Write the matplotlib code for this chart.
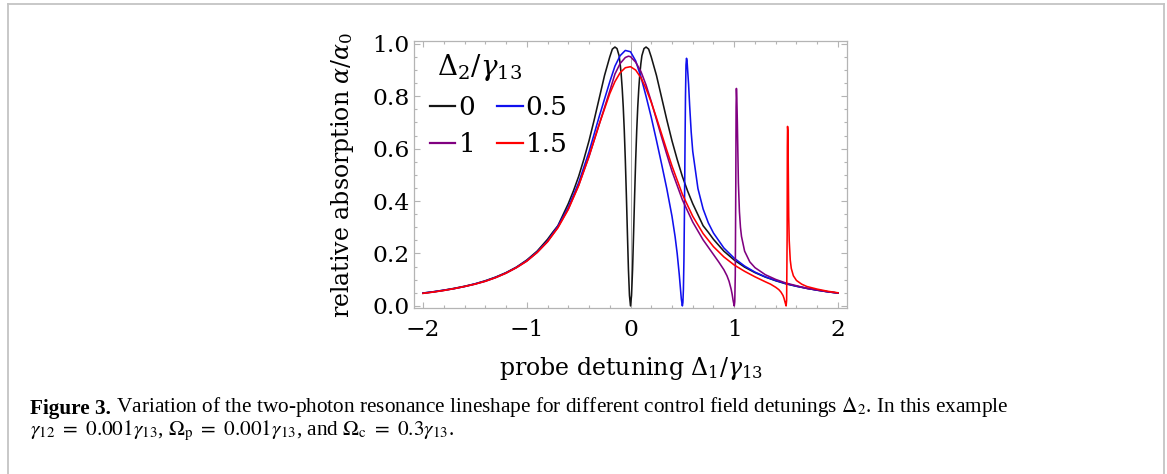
import matplotlib
matplotlib.use('Agg')
import matplotlib.pyplot as plt
from matplotlib.lines import Line2D
from matplotlib.ticker import MultipleLocator

# ---------------- data ----------------
detunings = ['0', '0.5', '1', '1.5']   # Delta_2 / gamma_13

x_d0 = [-2.0, -1.9, -1.8, -1.7, -1.6, -1.5, -1.4, -1.3, -1.2, -1.1, -1.0, -0.9, -0.8, -0.75, -0.7,
        -0.65, -0.6, -0.55, -0.5, -0.45, -0.4, -0.35, -0.3, -0.25, -0.2, -0.175, -0.15, -0.13,
        -0.11, -0.1, -0.09, -0.08, -0.07, -0.06, -0.05, -0.04, -0.03, -0.02, -0.01, 0.0,
        0.01, 0.02, 0.03, 0.04, 0.05, 0.06, 0.07, 0.08, 0.09, 0.1, 0.11, 0.13, 0.15, 0.175,
        0.2, 0.25, 0.3, 0.35, 0.4, 0.45, 0.5, 0.55, 0.6, 0.65, 0.7, 0.75, 0.8, 0.9, 1.0,
        1.1, 1.2, 1.3, 1.4, 1.5, 1.6, 1.7, 1.8, 1.9, 2.0]
y_d0 = [0.049, 0.054, 0.060, 0.067, 0.075, 0.084, 0.096, 0.110, 0.127, 0.148, 0.175, 0.209, 0.254, 0.281, 0.306,
        0.348, 0.390, 0.439, 0.494, 0.559, 0.630, 0.710, 0.795, 0.880, 0.950, 0.980, 0.988, 0.982,
        0.955, 0.925, 0.885, 0.830, 0.760, 0.670, 0.558, 0.425, 0.280, 0.140, 0.040, 0.0,
        0.040, 0.140, 0.280, 0.425, 0.558, 0.670, 0.760, 0.830, 0.885, 0.925, 0.955, 0.982, 0.988, 0.980,
        0.950, 0.880, 0.795, 0.710, 0.630, 0.559, 0.494, 0.439, 0.390, 0.348, 0.306, 0.281, 0.254, 0.209, 0.175,
        0.148, 0.127, 0.110, 0.096, 0.084, 0.075, 0.067, 0.060, 0.054, 0.049]

x_d05 = [-2.0, -1.9, -1.8, -1.7, -1.6, -1.5, -1.4, -1.3, -1.2, -1.1, -1.0, -0.9, -0.8, -0.7, -0.6,
         -0.5, -0.4, -0.3, -0.2, -0.15, -0.1, -0.05, 0.0, 0.05, 0.1, 0.15, 0.2, 0.25, 0.3, 0.35,
         0.4, 0.43, 0.45, 0.47, 0.48, 0.49, 0.5, 0.505, 0.51, 0.515, 0.52, 0.525, 0.53, 0.535,
         0.54, 0.545, 0.55, 0.56, 0.57, 0.585, 0.6, 0.65, 0.7, 0.75, 0.8, 0.9, 1.0, 1.1, 1.2,
         1.3, 1.4, 1.5, 1.6, 1.7, 1.8, 1.9, 2.0]
y_d05 = [0.049, 0.054, 0.060, 0.066, 0.074, 0.084, 0.095, 0.109, 0.126, 0.147, 0.173, 0.206, 0.248, 0.304, 0.376,
         0.470, 0.588, 0.725, 0.855, 0.915, 0.955, 0.975, 0.970, 0.935, 0.875, 0.800, 0.720, 0.632, 0.541, 0.447,
         0.342, 0.264, 0.200, 0.120, 0.073, 0.026, 0.0, 0.013, 0.063, 0.173, 0.356, 0.590, 0.800, 0.920,
         0.945, 0.935, 0.905, 0.845, 0.766, 0.664, 0.590, 0.448, 0.370, 0.317, 0.278, 0.221, 0.182, 0.152, 0.129,
         0.111, 0.097, 0.085, 0.075, 0.067, 0.060, 0.054, 0.049]

x_d1 = [-2.0, -1.9, -1.8, -1.7, -1.6, -1.5, -1.4, -1.3, -1.2, -1.1, -1.0, -0.9, -0.8, -0.7, -0.6,
        -0.5, -0.4, -0.3, -0.2, -0.15, -0.1, -0.05, -0.02, 0.0, 0.05, 0.1, 0.15, 0.2, 0.25, 0.3,
        0.35, 0.4, 0.5, 0.6, 0.7, 0.8, 0.85, 0.9, 0.93, 0.95, 0.97, 0.98, 0.99, 1.0, 1.005,
        1.01, 1.015, 1.018, 1.021, 1.025, 1.03, 1.04, 1.05, 1.06, 1.07, 1.1, 1.15, 1.2, 1.3,
        1.4, 1.5, 1.6, 1.7, 1.8, 1.9, 2.0]
y_d1 = [0.048, 0.053, 0.059, 0.066, 0.074, 0.083, 0.094, 0.108, 0.125, 0.146, 0.171, 0.204, 0.245, 0.300, 0.370,
        0.460, 0.570, 0.695, 0.820, 0.885, 0.925, 0.948, 0.953, 0.951, 0.930, 0.895, 0.843, 0.780, 0.712, 0.644,
        0.578, 0.514, 0.405, 0.320, 0.252, 0.196, 0.168, 0.138, 0.115, 0.094, 0.064, 0.044, 0.019, 0.0, 0.016,
        0.116, 0.463, 0.760, 0.830, 0.790, 0.700, 0.470, 0.360, 0.300, 0.265, 0.209, 0.168, 0.146, 0.119,
        0.101, 0.087, 0.077, 0.067, 0.061, 0.054, 0.049]

x_d15 = [-2.0, -1.9, -1.8, -1.7, -1.6, -1.5, -1.4, -1.3, -1.2, -1.1, -1.0, -0.9, -0.8, -0.7, -0.6,
         -0.5, -0.4, -0.3, -0.2, -0.15, -0.1, -0.05, 0.0, 0.05, 0.1, 0.15, 0.2, 0.25, 0.3, 0.35,
         0.4, 0.5, 0.6, 0.7, 0.8, 0.9, 1.0, 1.1, 1.2, 1.3, 1.35, 1.4, 1.43, 1.45, 1.47, 1.48,
         1.49, 1.5, 1.505, 1.51, 1.512, 1.514, 1.517, 1.52, 1.525, 1.53, 1.54, 1.55, 1.57, 1.6,
         1.65, 1.7, 1.8, 1.9, 2.0]
y_d15 = [0.048, 0.053, 0.059, 0.066, 0.074, 0.083, 0.094, 0.108, 0.125, 0.146, 0.171, 0.204, 0.245, 0.298, 0.368,
         0.459, 0.571, 0.695, 0.810, 0.856, 0.890, 0.909, 0.913, 0.900, 0.871, 0.829, 0.777, 0.718, 0.656, 0.594,
         0.534, 0.426, 0.342, 0.276, 0.226, 0.187, 0.156, 0.132, 0.111, 0.092, 0.083, 0.071, 0.062, 0.053, 0.040, 0.029,
         0.014, 0.0, 0.022, 0.270, 0.606, 0.685, 0.670, 0.565, 0.342, 0.250, 0.175, 0.143, 0.115, 0.097,
         0.083, 0.074, 0.064, 0.056, 0.050]

series_x = [x_d0, x_d05, x_d1, x_d15]
series_y = [y_d0, y_d05, y_d1, y_d15]
colors = ['#151515', '#1010ee', '#800080', '#ff0000']

x_ticks = [-2, -1, 0, 1, 2]
x_ticklabels = ['\u22122', '\u22121', '0', '1', '2']
y_ticks = [0.0, 0.2, 0.4, 0.6, 0.8, 1.0]
y_ticklabels = ['0.0', '0.2', '0.4', '0.6', '0.8', '1.0']

# ---------------- figure ----------------
plt.rcParams['font.family'] = ['DejaVu Serif']
plt.rcParams['mathtext.fontset'] = 'dejavuserif'

W, H = 1167, 474
fig = plt.figure(figsize=(W / 100, H / 100), dpi=100)
ax = fig.add_axes([414 / W, 1 - 308 / H, 433 / W, 267 / H])

frame_col = '#b4b4b4'
ax.axvline(0, color='#9a9a9a', lw=0.6, zorder=1)

lines = []
for xs, ys, c, lab in zip(series_x, series_y, colors, detunings):
    ln, = ax.plot(xs, ys, color=c, lw=1.15, label=lab, zorder=3, solid_joinstyle='round')
    lines.append(ln)

ax.set_xlim(-2.087, 2.087)
ax.set_ylim(-0.008, 1.011)

ax.set_xticks(x_ticks)
ax.set_xticklabels(x_ticklabels)
ax.set_yticks(y_ticks)
ax.set_yticklabels(y_ticklabels)
ax.xaxis.set_minor_locator(MultipleLocator(0.2))
ax.yaxis.set_minor_locator(MultipleLocator(0.05))
ax.tick_params(which='both', direction='in', top=True, right=True, color=frame_col, width=0.8)
ax.tick_params(which='major', length=4.0, labelsize=16.8, pad=3)
ax.tick_params(axis='x', which='major', pad=8)
ax.tick_params(which='minor', length=2.2)
for sp in ax.spines.values():
    sp.set_color(frame_col)
    sp.set_linewidth(0.9)

ax.set_xlabel(r'probe detuning $\Delta_1/\gamma_{13}$', fontsize=17, labelpad=10)
ax.set_ylabel(r'relative absorption $\alpha/\alpha_0$', fontsize=17, labelpad=12)

leg = ax.legend(handles=[lines[0], lines[2], lines[1], lines[3]],
                labels=[detunings[0], detunings[2], detunings[1], detunings[3]],
                ncol=2, loc='upper left', bbox_to_anchor=(0.037, 0.957), frameon=False,
                fontsize=19, title=r'$\;\Delta_2/\gamma_{13}$', title_fontsize=20,
                handlelength=0.95, handletextpad=0.12, columnspacing=0.85,
                labelspacing=0.45, borderpad=0.0, borderaxespad=0.0, alignment='left')
for h in leg.legend_handles:
    h.set_linewidth(1.6)

# outer frame of the figure panel
fcol = '#c4c4c4'
fig.add_artist(Line2D([7.5 / W, 1163.5 / W], [1 - 3.8 / H, 1 - 3.8 / H], transform=fig.transFigure, color=fcol, lw=1.3))
fig.add_artist(Line2D([7.5 / W, 7.5 / W], [0, 1 - 3.8 / H], transform=fig.transFigure, color=fcol, lw=1.3))
fig.add_artist(Line2D([1163.5 / W, 1163.5 / W], [0, 1 - 3.8 / H], transform=fig.transFigure, color=fcol, lw=1.3))

# caption
cap_fs = 15.3
t1 = fig.text(30 / W, 1 - 419 / H, 'Figure 3.', fontsize=cap_fs, fontweight='bold',
              family=['Liberation Serif'], va='bottom', ha='left')
ax.annotate(' Variation of the two-photon resonance lineshape for different control field detunings '
            r'$\Delta_2$. In this example',
            xy=(1, 0), xycoords=t1, va='bottom', ha='left', fontsize=cap_fs,
            family=['Liberation Serif'], math_fontfamily='stix', annotation_clip=False)
fig.text(30 / W, 1 - 443 / H,
         r'$\gamma_{12}\ =\ 0.001\gamma_{13}$, $\Omega_\mathrm{p}\ =\ 0.001\gamma_{13}$, and $\Omega_\mathrm{c}\ =\ 0.3\gamma_{13}$.',
         fontsize=cap_fs, family=['Liberation Serif'], math_fontfamily='stix', va='bottom', ha='left')

fig.savefig('out.png', dpi=100)
